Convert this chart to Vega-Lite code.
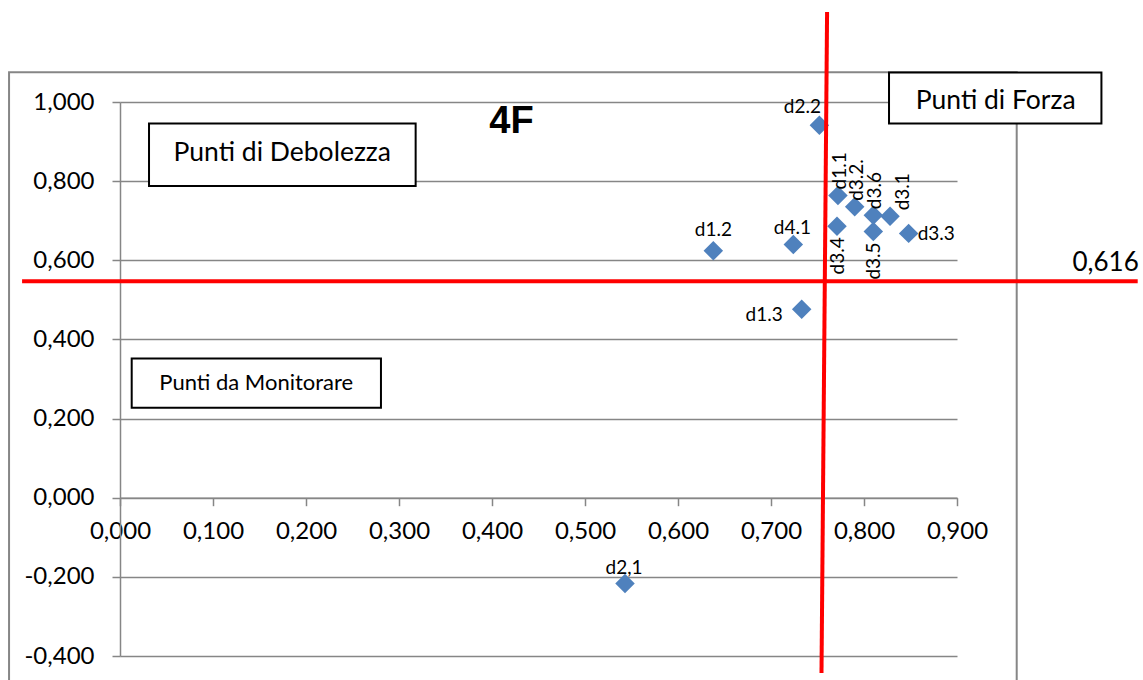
{
  "$schema": "https://vega.github.io/schema/vega-lite/v6.json",
  "width": 837,
  "height": 554,
  "autosize": {"type": "none"},
  "padding": {"left": 120, "top": 102, "right": 186, "bottom": 24},
  "background": "white",
  "config": {
    "view": {"stroke": null},
    "locale": {"number": {"decimal": ",", "thousands": ".", "grouping": [3], "currency": ["", " €"], "minus": "-"}},
    "axis": {
      "domainColor": "#868686", "domainWidth": 1.5,
      "tickColor": "#868686", "tickWidth": 1.5, "tickSize": 8,
      "gridColor": "#868686", "gridWidth": 1.5,
      "labelFont": "Lato", "labelFontSize": 24, "labelColor": "#000000",
      "labelFlush": false, "labelOverlap": false, "title": null
    },
    "text": {"font": "Lato", "color": "#000000"}
  },
  "datasets": {
    "points": [
      {"name": "d1.1", "x": 0.772, "y": 0.764},
      {"name": "d1.2", "x": 0.638, "y": 0.624},
      {"name": "d1.3", "x": 0.733, "y": 0.476},
      {"name": "d2,1", "x": 0.543, "y": -0.217},
      {"name": "d2.2", "x": 0.752, "y": 0.941},
      {"name": "d3.1", "x": 0.828, "y": 0.711},
      {"name": "d3.2.", "x": 0.790, "y": 0.735},
      {"name": "d3.3", "x": 0.848, "y": 0.668},
      {"name": "d3.4", "x": 0.771, "y": 0.686},
      {"name": "d3.5", "x": 0.810, "y": 0.673},
      {"name": "d3.6", "x": 0.810, "y": 0.714},
      {"name": "d4.1", "x": 0.724, "y": 0.640}
    ],
    "one": [{}]
  },
  "data": {"name": "points"},
  "layer": [
    {
      "data": {"name": "one"},
      "mark": {"type": "rect", "fill": null, "stroke": "#868686", "strokeWidth": 2},
      "encoding": {
        "x": {"datum": -0.1193, "type": "quantitative", "scale": {"domain": [0, 0.9], "nice": false, "zero": false}},
        "x2": {"datum": 0.9642},
        "y": {"datum": 1.075, "type": "quantitative", "scale": {"domain": [-0.4, 1.0], "nice": false, "zero": false}},
        "y2": {"datum": -0.6}
      }
    },
    {
      "mark": {"type": "point", "shape": "diamond", "filled": true, "size": 380, "color": "#4F81BD", "opacity": 1},
      "encoding": {
        "x": {
          "field": "x", "type": "quantitative",
          "scale": {"domain": [0, 0.9], "nice": false, "zero": false},
          "axis": {"values": [0, 0.1, 0.2, 0.3, 0.4, 0.5, 0.6, 0.7, 0.8, 0.9], "format": ".3f", "grid": false, "offset": -158.3, "labelPadding": 14}
        },
        "y": {
          "field": "y", "type": "quantitative",
          "scale": {"domain": [-0.4, 1.0], "nice": false, "zero": false},
          "axis": {"values": [-0.4, -0.2, 0, 0.2, 0.4, 0.6, 0.8, 1.0], "format": ".3f", "grid": true, "labelPadding": 18}
        }
      }
    },
    {
      "transform": [{"filter": "datum.name == 'd2.2'"}],
      "mark": {"type": "text", "fontSize": 19, "align": "center", "baseline": "middle", "dx": -17, "dy": -18},
      "encoding": {"x": {"field": "x", "type": "quantitative"}, "y": {"field": "y", "type": "quantitative"}, "text": {"field": "name"}}
    },
    {
      "transform": [{"filter": "datum.name == 'd1.2'"}],
      "mark": {"type": "text", "fontSize": 19, "align": "center", "baseline": "middle", "dx": 0, "dy": -21},
      "encoding": {"x": {"field": "x", "type": "quantitative"}, "y": {"field": "y", "type": "quantitative"}, "text": {"field": "name"}}
    },
    {
      "transform": [{"filter": {"field": "name", "oneOf": ["d4.1", "d2,1"]}}],
      "mark": {"type": "text", "fontSize": 19, "align": "center", "baseline": "middle", "dx": -1, "dy": -16},
      "encoding": {"x": {"field": "x", "type": "quantitative"}, "y": {"field": "y", "type": "quantitative"}, "text": {"field": "name"}}
    },
    {
      "transform": [{"filter": "datum.name == 'd1.3'"}],
      "mark": {"type": "text", "fontSize": 19, "align": "right", "baseline": "middle", "dx": -19, "dy": 6},
      "encoding": {"x": {"field": "x", "type": "quantitative"}, "y": {"field": "y", "type": "quantitative"}, "text": {"field": "name"}}
    },
    {
      "transform": [{"filter": "datum.name == 'd3.3'"}],
      "mark": {"type": "text", "fontSize": 19, "align": "left", "baseline": "middle", "dx": 9, "dy": 1},
      "encoding": {"x": {"field": "x", "type": "quantitative"}, "y": {"field": "y", "type": "quantitative"}, "text": {"field": "name"}}
    },
    {
      "transform": [{"filter": {"field": "name", "oneOf": ["d1.1", "d3.2.", "d3.6"]}}],
      "mark": {"type": "text", "fontSize": 19, "angle": 270, "align": "left", "baseline": "middle", "dx": 6, "dy": 2},
      "encoding": {"x": {"field": "x", "type": "quantitative"}, "y": {"field": "y", "type": "quantitative"}, "text": {"field": "name"}}
    },
    {
      "transform": [{"filter": "datum.name == 'd3.1'"}],
      "mark": {"type": "text", "fontSize": 19, "angle": 270, "align": "left", "baseline": "middle", "dx": 6, "dy": 13},
      "encoding": {"x": {"field": "x", "type": "quantitative"}, "y": {"field": "y", "type": "quantitative"}, "text": {"field": "name"}}
    },
    {
      "transform": [{"filter": {"field": "name", "oneOf": ["d3.4", "d3.5"]}}],
      "mark": {"type": "text", "fontSize": 19, "angle": 270, "align": "right", "baseline": "middle", "dx": -11, "dy": 1},
      "encoding": {"x": {"field": "x", "type": "quantitative"}, "y": {"field": "y", "type": "quantitative"}, "text": {"field": "name"}}
    },
    {
      "data": {"name": "one"},
      "mark": {"type": "rect", "fill": "white", "stroke": "#000000", "strokeWidth": 2},
      "encoding": {"x": {"datum": 0.0312, "type": "quantitative"}, "x2": {"datum": 0.3179}, "y": {"datum": 0.9454, "type": "quantitative"}, "y2": {"datum": 0.7878}}
    },
    {
      "data": {"name": "one"},
      "mark": {"type": "text", "text": "Punti di Debolezza", "fontSize": 26.5, "align": "center", "baseline": "middle"},
      "encoding": {"x": {"datum": 0.1745, "type": "quantitative"}, "y": {"datum": 0.870, "type": "quantitative"}}
    },
    {
      "data": {"name": "one"},
      "mark": {"type": "rect", "fill": "white", "stroke": "#000000", "strokeWidth": 2},
      "encoding": {"x": {"datum": 0.8269, "type": "quantitative"}, "x2": {"datum": 1.0553}, "y": {"datum": 1.0743, "type": "quantitative"}, "y2": {"datum": 0.9454}}
    },
    {
      "data": {"name": "one"},
      "mark": {"type": "text", "text": "Punti di Forza", "fontSize": 26.5, "align": "center", "baseline": "middle"},
      "encoding": {"x": {"datum": 0.9416, "type": "quantitative"}, "y": {"datum": 1.0018, "type": "quantitative"}}
    },
    {
      "data": {"name": "one"},
      "mark": {"type": "rect", "fill": "white", "stroke": "#000000", "strokeWidth": 2},
      "encoding": {"x": {"datum": 0.01258, "type": "quantitative"}, "x2": {"datum": 0.2806}, "y": {"datum": 0.3519, "type": "quantitative"}, "y2": {"datum": 0.2271}}
    },
    {
      "data": {"name": "one"},
      "mark": {"type": "text", "text": "Punti da Monitorare", "fontSize": 22, "align": "center", "baseline": "middle"},
      "encoding": {"x": {"datum": 0.1465, "type": "quantitative"}, "y": {"datum": 0.2887, "type": "quantitative"}}
    },
    {
      "data": {"name": "one"},
      "mark": {"type": "text", "text": "4F", "font": "Liberation Sans", "fontWeight": "bold", "fontSize": 38, "align": "center", "baseline": "middle"},
      "encoding": {"x": {"datum": 0.4210, "type": "quantitative"}, "y": {"datum": 0.9495, "type": "quantitative"}}
    },
    {
      "data": {"name": "one"},
      "mark": {"type": "rule", "color": "#FF0000", "strokeWidth": 4},
      "encoding": {"x": {"datum": 0.7603, "type": "quantitative"}, "x2": {"datum": 0.7543}, "y": {"datum": 1.2273, "type": "quantitative"}, "y2": {"datum": -0.443}}
    },
    {
      "data": {"name": "one"},
      "mark": {"type": "rule", "color": "#FF0000", "strokeWidth": 4},
      "encoding": {"x": {"datum": -0.1053, "type": "quantitative"}, "x2": {"datum": 1.0943}, "y": {"datum": 0.547, "type": "quantitative"}, "y2": {"datum": 0.547}}
    },
    {
      "data": {"name": "one"},
      "mark": {"type": "text", "text": "0,616", "fontSize": 26, "align": "right", "baseline": "middle"},
      "encoding": {"x": {"datum": 1.0954, "type": "quantitative"}, "y": {"datum": 0.5926, "type": "quantitative"}}
    }
  ]
}
